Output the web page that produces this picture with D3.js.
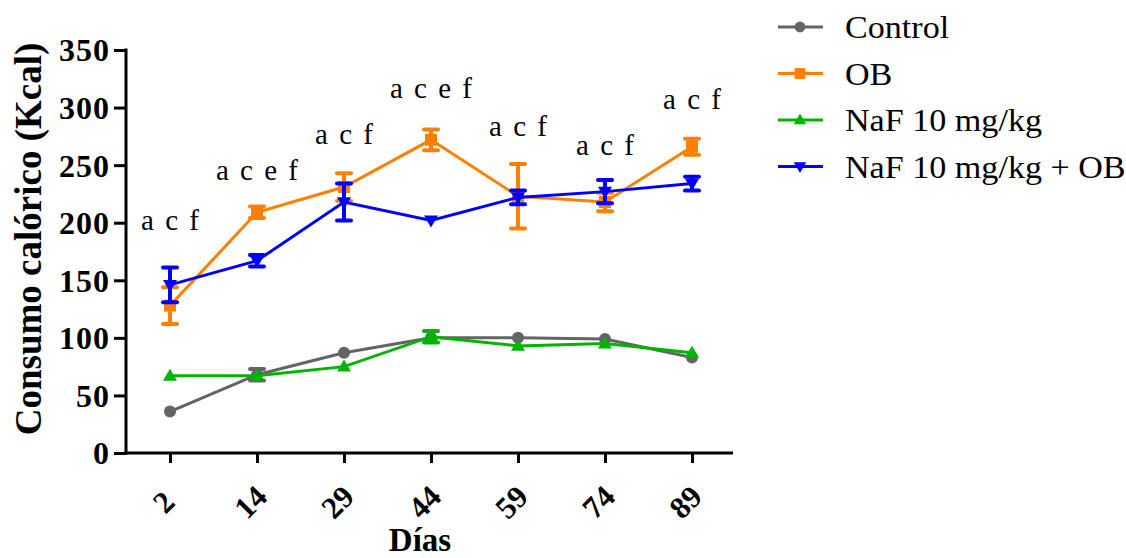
<!DOCTYPE html>
<html>
<head>
<meta charset="utf-8">
<script src="https://cdn.jsdelivr.net/npm/d3@7"></script>
<style>
  html, body { margin: 0; padding: 0; background: #fff; }
  svg { display: block; font-family: "Liberation Serif", "Times New Roman", serif; }
</style>
</head>
<body>
<svg id="chart" width="1126" height="558"></svg>
<script>
// Days of measurement
const days = ["2", "14", "29", "44", "59", "74", "89"];

// Mean caloric intake (Kcal) per group
const controlMean = [36, 68, 87, 100, 100, 99, 83];
const obMean      = [128, 209, 231, 272, 223, 218, 266];
const nafMean     = [67, 67, 75, 101, 93, 95, 87];
const nafObMean   = [146, 167, 218, 202, 222, 227, 234];

// Error (± SEM)
const controlErr = [0, 5, 0, 0, 0, 0, 0];
const obErr      = [16, 5, 12, 9, 28, 8, 7];
const nafErr     = [0, 0, 0, 5, 0, 0, 0];
const nafObErr   = [15, 5, 16, 0, 6, 10, 6];

// Significance letters above each day (baseline placed at the given value)
const sigLabels = ["a c f", "a c e f", "a c f", "a c e f", "a c f", "a c f", "a c f"];
const sigValues = [194, 237, 268, 308, 275, 259, 299];

const yTicks = [0, 50, 100, 150, 200, 250, 300, 350];

const seriesNames = ["Control", "OB", "NaF 10 mg/kg", "NaF 10 mg/kg + OB"];
const seriesColors = ["#646464", "#ff8000", "#00b400", "#0000ff"];
const seriesSymbols = ["circle", "square", "triangle", "triangleDown"];

const series = [
  { name: seriesNames[0], mean: controlMean, err: controlErr, color: seriesColors[0], symbol: seriesSymbols[0] },
  { name: seriesNames[1], mean: obMean, err: obErr, color: seriesColors[1], symbol: seriesSymbols[1] },
  { name: seriesNames[2], mean: nafMean, err: nafErr, color: seriesColors[2], symbol: seriesSymbols[2] },
  { name: seriesNames[3], mean: nafObMean, err: nafObErr, color: seriesColors[3], symbol: seriesSymbols[3] }
];

const svg = d3.select("#chart");

const plot = { left: 126, right: 733, top: 50, bottom: 453 };

const x = d3.scalePoint()
  .domain(days)
  .range([170, 692]);

const y = d3.scaleLinear()
  .domain([0, 350])
  .range([plot.bottom, plot.top]);

// Marker shapes
function drawMarker(g, kind, cx, cy, color, scale = 1) {
  if (kind === "circle") {
    g.append("circle").attr("cx", cx).attr("cy", cy).attr("r", 6 * scale).attr("fill", color);
  } else if (kind === "square") {
    const s = 12 * scale;
    g.append("rect").attr("x", cx - s / 2).attr("y", cy - s / 2).attr("width", s).attr("height", s).attr("fill", color);
  } else if (kind === "triangle") {
    const h = 12 * scale, w = 14 * scale;
    g.append("path").attr("d", `M${cx},${cy - h * 0.6} L${cx + w / 2},${cy + h * 0.4} L${cx - w / 2},${cy + h * 0.4} Z`).attr("fill", color);
  } else {
    const h = 12 * scale, w = 14 * scale;
    g.append("path").attr("d", `M${cx},${cy + h * 0.6} L${cx + w / 2},${cy - h * 0.4} L${cx - w / 2},${cy - h * 0.4} Z`).attr("fill", color);
  }
}

// Y axis
const yAxis = d3.axisLeft(y).tickValues(yTicks).tickSize(12).tickPadding(4).tickSizeOuter(0);
const gy = svg.append("g").attr("transform", `translate(${plot.left},0)`).call(yAxis);
gy.select(".domain").attr("stroke", "#000").attr("stroke-width", 3)
  .attr("d", `M0,${plot.top - 1.5}V${plot.bottom + 1.5}`);
gy.selectAll(".tick line").attr("stroke", "#000").attr("stroke-width", 3);
gy.selectAll(".tick text")
  .attr("fill", "#000")
  .style("font-family", "'Liberation Serif', serif")
  .style("font-size", "32px")
  .style("font-weight", "bold")
  .style("letter-spacing", "1px")
  .attr("dy", "0.34em");

// X axis with labels turned 45 degrees
const xAxis = d3.axisBottom(x).tickSize(10).tickSizeOuter(0).tickPadding(0);
const gx = svg.append("g").attr("transform", `translate(0,${plot.bottom})`).call(xAxis);
gx.select(".domain").attr("stroke", "#000").attr("stroke-width", 3)
  .attr("d", `M${plot.left - 1.5},0H${plot.right}`);
gx.selectAll(".tick line").attr("stroke", "#000").attr("stroke-width", 3);
gx.selectAll(".tick text")
  .attr("fill", "#000")
  .style("font-family", "'Liberation Serif', serif")
  .style("font-size", "31px")
  .style("font-weight", "bold")
  .attr("text-anchor", "middle")
  .attr("dy", null)
  .attr("y", 0)
  .attr("transform", "translate(-7,49) rotate(-45)")
  .attr("dominant-baseline", "central");

// Axis titles
svg.append("text")
  .attr("x", 420).attr("y", 551)
  .attr("text-anchor", "middle")
  .style("font-size", "33px").style("font-weight", "bold")
  .text("Días");

svg.append("text")
  .attr("transform", `translate(41,239) rotate(-90)`)
  .attr("text-anchor", "middle")
  .style("font-size", "37px").style("font-weight", "bold")
  .text("Consumo calórico (Kcal)");

// Series: lines, error bars, markers
const line = d3.line().x((d, i) => x(days[i])).y(d => y(d));

series.forEach(s => {
  const g = svg.append("g");
  g.append("path")
    .attr("d", line(s.mean))
    .attr("fill", "none")
    .attr("stroke", s.color)
    .attr("stroke-width", 3);

  s.mean.forEach((m, i) => {
    const e = s.err[i];
    if (e > 0) {
      const cx = x(days[i]);
      const y1 = y(m + e), y2 = y(m - e);
      g.append("line").attr("x1", cx).attr("x2", cx).attr("y1", y1).attr("y2", y2)
        .attr("stroke", s.color).attr("stroke-width", 4);
      [y1, y2].forEach(yy => {
        g.append("line").attr("x1", cx - 7).attr("x2", cx + 7).attr("y1", yy).attr("y2", yy)
          .attr("stroke", s.color).attr("stroke-width", 4).attr("stroke-linecap", "round");
      });
    }
    drawMarker(g, s.symbol, x(days[i]), y(m), s.color);
  });
});

// Significance letters
svg.append("g").selectAll("text")
  .data(sigLabels)
  .join("text")
  .attr("x", (d, i) => x(days[i]))
  .attr("y", (d, i) => y(sigValues[i]))
  .attr("text-anchor", "middle")
  .style("font-size", "29px")
  .style("word-spacing", "4px")
  .text(d => d);

// Legend
const legend = svg.append("g");
seriesNames.forEach((name, i) => {
  const ly = 27 + i * 46.5;
  legend.append("line").attr("x1", 778).attr("x2", 823).attr("y1", ly).attr("y2", ly)
    .attr("stroke", seriesColors[i]).attr("stroke-width", 3);
  drawMarker(legend, seriesSymbols[i], 800, ly, seriesColors[i], 0.9);
  legend.append("text")
    .attr("transform", `translate(845,${ly + 11}) scale(1.1,1)`)
    .style("font-size", "31px")
    .text(name);
});
</script>
</body>
</html>
